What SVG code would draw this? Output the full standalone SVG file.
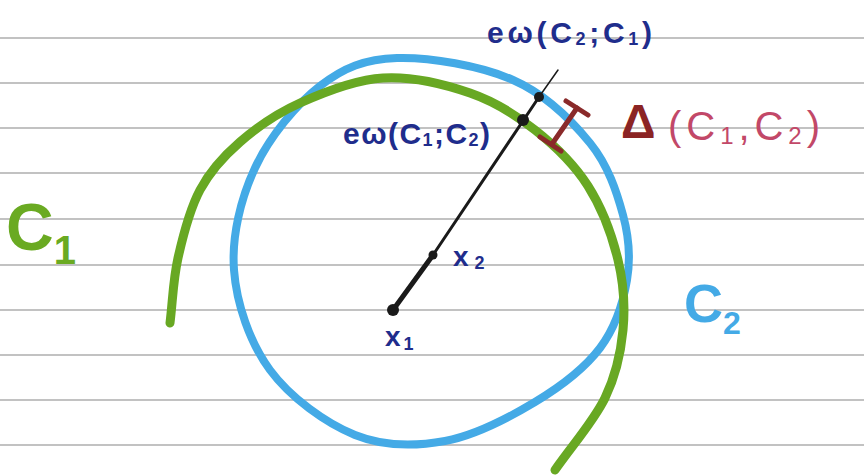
<svg xmlns="http://www.w3.org/2000/svg" width="864" height="476" viewBox="0 0 864 476">
  <defs>
    <style>
      .rule { stroke: #c2c2c2; stroke-width: 2; fill: none; }
      .c1 { stroke: #68a823; stroke-width: 9; fill: none; stroke-linecap: round; stroke-linejoin: round; }
      .c2 { stroke: #44aae6; stroke-width: 8; fill: none; stroke-linecap: round; stroke-linejoin: round; }
      .seg { stroke: #1a1a1a; fill: none; stroke-linecap: round; }
      .dot { fill: #1a1a1a; }
      .bracket { stroke: #8a2a2a; stroke-width: 5; fill: none; stroke-linecap: round; }
      .hand { font-family: "Liberation Sans", "DejaVu Sans", sans-serif; }
      .blue { fill: #1f2d8c; font-weight: bold; }
    </style>
    <linearGradient id="orange" x1="0" y1="0" x2="1" y2="0">
      <stop offset="0" stop-color="#f6c9ae"/>
      <stop offset="1" stop-color="#ef7435"/>
    </linearGradient>
  </defs>

  <rect x="0" y="0" width="864" height="476" fill="#ffffff"/>

  <g id="paper-lines">
    <line class="rule" x1="0" y1="38" x2="864" y2="38"/>
    <line class="rule" x1="0" y1="83" x2="864" y2="83"/>
    <line class="rule" x1="0" y1="128" x2="864" y2="128"/>
    <line class="rule" x1="0" y1="173" x2="864" y2="173"/>
    <line class="rule" x1="0" y1="219" x2="864" y2="219"/>
    <line class="rule" x1="0" y1="265" x2="864" y2="265"/>
    <line class="rule" x1="0" y1="310" x2="864" y2="310"/>
    <line class="rule" x1="0" y1="355" x2="864" y2="355"/>
    <line class="rule" x1="0" y1="400" x2="864" y2="400"/>
    <line class="rule" x1="0" y1="445" x2="864" y2="445"/>
  </g>

  <g id="smudge">
    <line x1="680" y1="230" x2="864" y2="230" stroke="url(#orange)" stroke-width="5" stroke-linecap="round"/>
  </g>

  <g id="curve-C2">
    <path class="c2" d="M397,58 C429.2,57 480.8,65.8 513,80 C545.2,94.2 571.7,120.5 590,143 C608.3,165.5 616.8,192.2 623,215 C629.2,237.8 630.8,257.8 627,280 C623.2,302.2 615.3,327.7 600,348 C584.7,368.3 560.8,386.5 535,402 C509.2,417.5 475,435.5 445,441 C415,446.5 384.2,446.8 355,435 C325.8,423.2 290.2,397.5 270,370 C249.8,342.5 236.5,303.7 234,270 C231.5,236.3 240.7,198.7 255,168 C269.3,137.3 296.3,104.3 320,86 C343.7,67.7 364.8,59 397,58 Z"/>
  </g>

  <g id="curve-C1">
    <path class="c1" d="M170,323 C172.7,301.3 173,280.2 178,258 C183,235.8 189.7,209.3 200,190 C210.3,170.7 223.3,156.5 240,142 C256.7,127.5 276.2,113.7 300,103 C323.8,92.3 354.7,79.7 383,78 C411.3,76.3 444.7,84.3 470,93 C495.3,101.7 515.3,114.5 535,130 C554.7,145.5 574.2,164.3 588,186 C601.8,207.7 612.2,236 618,260 C623.8,284 625.2,307 623,330 C620.8,353 616.3,374.7 605,398 C593.7,421.3 571.7,446 555,470"/>
  </g>

  <g id="segment">
    <line class="seg" x1="393" y1="310" x2="433" y2="255" stroke-width="5"/>
    <line class="seg" x1="433" y1="255" x2="539" y2="97" stroke-width="3"/>
    <line class="seg" x1="539" y1="97" x2="558" y2="70" stroke-width="1.5"/>
    <circle class="dot" cx="393" cy="310" r="6"/>
    <circle class="dot" cx="433" cy="255" r="4.5"/>
    <circle class="dot" cx="523" cy="120" r="6"/>
    <circle class="dot" cx="539" cy="97" r="5"/>
  </g>

  <g id="gap-bracket">
    <line class="bracket" x1="552" y1="144" x2="577" y2="108"/>
    <line class="bracket" x1="566" y1="101" x2="588" y2="115"/>
    <line class="bracket" x1="540" y1="137" x2="561" y2="151"/>
  </g>

  <g id="labels">
    <text class="hand blue" x="487" y="43" font-size="30" textLength="165" lengthAdjust="spacing">eω(C<tspan font-size="18" dy="2">2</tspan><tspan dy="-2">;C</tspan><tspan font-size="18" dy="2">1</tspan><tspan dy="-2">)</tspan></text>
    <text class="hand blue" x="343" y="144" font-size="30" textLength="147" lengthAdjust="spacing">eω(C<tspan font-size="18" dy="2">1</tspan><tspan dy="-2">;C</tspan><tspan font-size="18" dy="2">2</tspan><tspan dy="-2">)</tspan></text>
    <text class="hand blue" x="453" y="266" font-size="28">x<tspan font-size="18" dx="6" dy="3">2</tspan></text>
    <text class="hand blue" x="385" y="346" font-size="28">x<tspan font-size="18" dx="3" dy="4">1</tspan></text>
    <text class="hand" x="621" y="138" font-size="48" font-weight="bold" fill="#8b2424">Δ</text>
    <text class="hand" x="668" y="140" font-size="40" fill="#c24868" textLength="152" lengthAdjust="spacing">(C<tspan font-size="24" dy="4">1</tspan><tspan dy="-4">,C</tspan><tspan font-size="24" dy="4">2</tspan><tspan dy="-4">)</tspan></text>
    <text class="hand" x="6" y="250" font-size="66" font-weight="bold" fill="#6aaa22">C<tspan font-size="40" dy="14">1</tspan></text>
    <text class="hand" x="684" y="322" font-size="54" font-weight="bold" fill="#44aae6">C<tspan font-size="32" dy="12">2</tspan></text>
  </g>
</svg>
